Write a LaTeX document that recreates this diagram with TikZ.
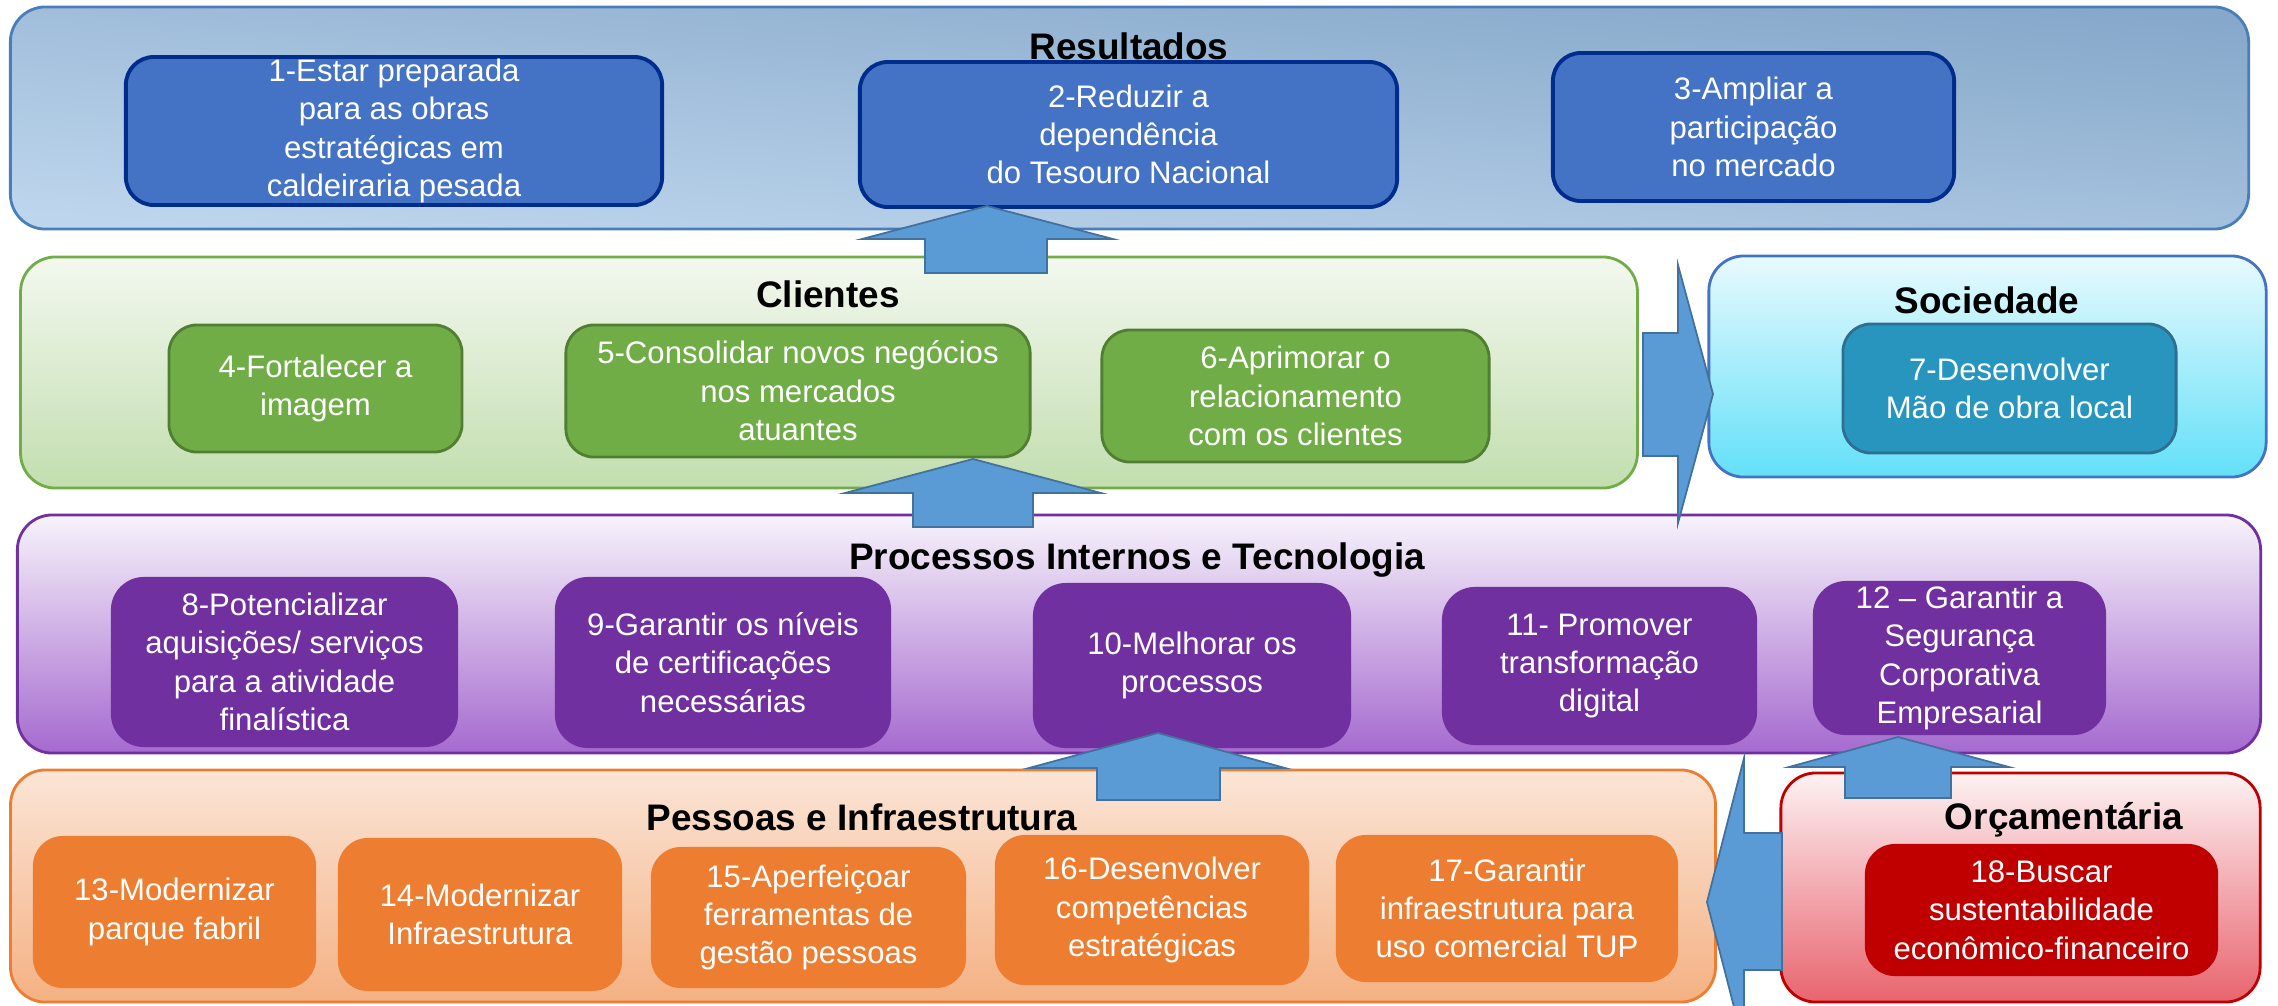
\documentclass[tikz,border=0pt]{standalone}
\usepackage{fontspec}
\setmainfont{Liberation Sans}
\definecolor{resTop}{RGB}{134,168,202}
\definecolor{resMid}{RGB}{160,190,219}
\definecolor{resBot}{RGB}{190,214,237}
\definecolor{resLine}{RGB}{74,126,187}
\definecolor{blueFill}{RGB}{68,114,196}
\definecolor{blueLine}{RGB}{0,45,140}
\definecolor{cliTop}{RGB}{243,248,239}
\definecolor{cliMid}{RGB}{222,236,212}
\definecolor{cliBot}{RGB}{194,222,175}
\definecolor{greenFill}{RGB}{112,173,71}
\definecolor{greenLine}{RGB}{80,126,50}
\definecolor{socTop}{RGB}{232,250,254}
\definecolor{socMid}{RGB}{120,228,248}
\definecolor{socBot}{RGB}{99,224,248}
\definecolor{socLine}{RGB}{68,114,196}
\definecolor{tealFill}{RGB}{39,149,190}
\definecolor{tealLine}{RGB}{46,110,145}
\definecolor{proTop}{RGB}{247,243,251}
\definecolor{proMid}{RGB}{205,175,228}
\definecolor{proBot}{RGB}{165,106,207}
\definecolor{purpFill}{RGB}{112,48,160}
\definecolor{pesTop}{RGB}{251,229,214}
\definecolor{pesBot}{RGB}{244,177,131}
\definecolor{orangeFill}{RGB}{237,125,49}
\definecolor{orcTop}{RGB}{253,242,243}
\definecolor{orcMid}{RGB}{238,140,148}
\definecolor{orcBot}{RGB}{232,100,110}
\definecolor{redFill}{RGB}{192,0,0}
\definecolor{arrFill}{RGB}{91,155,213}
\definecolor{arrLine}{RGB}{65,113,156}
\newcommand{\boxfnt}{\fontsize{8.85}{10.9}\selectfont}
\newcommand{\ttlfnt}{\bfseries\fontsize{10.5}{12}\selectfont}
\begin{document}
\begin{tikzpicture}[x=0.01cm,y=-0.01cm,
  panel/.style={rectangle,rounded corners=0.35cm,line width=0.8pt,inner sep=0pt},
  obox/.style={rectangle,rounded corners=0.28cm,align=center,text=white,font=\boxfnt,inner sep=0pt},
  bluebox/.style={obox,fill=blueFill,draw=blueLine,line width=1.1pt},
  greenbox/.style={obox,fill=greenFill,draw=greenLine,line width=0.8pt},
  tealbox/.style={obox,fill=tealFill,draw=tealLine,line width=0.8pt},
  purpbox/.style={obox,fill=purpFill,rounded corners=0.33cm},
  orangebox/.style={obox,fill=orangeFill,rounded corners=0.3cm},
  redbox/.style={obox,fill=redFill,rounded corners=0.3cm},
  ptitle/.style={font=\ttlfnt,text=black,inner sep=0pt},
  blockarrow/.style={fill=arrFill,draw=arrLine,line width=0.5pt,line join=miter}]
\useasboundingbox (0,0) rectangle (2278,1005);
\clip (0,0) rectangle (2278,1005);
% panels
\node[panel,draw=resLine,top color=resTop,middle color=resMid,bottom color=resBot,shading angle=-5,minimum width=22.37cm,minimum height=2.22cm] (res) at (1129.5,118) {};
\node[panel,draw=greenFill,top color=cliTop,middle color=cliMid,bottom color=cliBot,minimum width=16.16cm,minimum height=2.31cm] (cli) at (829,372.5) {};
\node[panel,draw=socLine,top color=socTop,middle color=socMid,bottom color=socBot,minimum width=5.57cm,minimum height=2.21cm] (soc) at (1987.5,366.5) {};
\node[panel,draw=purpFill,top color=proTop,middle color=proMid,bottom color=proBot,minimum width=22.42cm,minimum height=2.38cm] (pro) at (1139,634) {};
\node[panel,draw=orangeFill,top color=pesTop,bottom color=pesBot,minimum width=17.04cm,minimum height=2.32cm] (pes) at (863,886) {};
\node[panel,draw=redFill,top color=orcTop,middle color=orcMid,bottom color=orcBot,minimum width=4.79cm,minimum height=2.29cm] (orc) at (2020.5,887.5) {};
% boxes
\node[bluebox,minimum width=5.36cm,minimum height=1.48cm] (b1) at (394,131) {1-Estar preparada\\para as obras\\estratégicas em\\caldeiraria pesada};
\node[bluebox,minimum width=5.37cm,minimum height=1.45cm] (b2) at (1128.5,134.5) {2-Reduzir a\\dependência\\do Tesouro Nacional};
\node[bluebox,minimum width=4.01cm,minimum height=1.48cm] (b3) at (1753.5,127) {3-Ampliar a\\participação\\no mercado};
\node[greenbox,minimum width=2.93cm,minimum height=1.27cm] (b4) at (315.5,388.5) {4-Fortalecer a\\imagem};
\node[greenbox,minimum width=4.64cm,minimum height=1.32cm] (b5) at (798,391) {5-Consolidar novos negócios\\nos mercados\\atuantes};
\node[greenbox,minimum width=3.87cm,minimum height=1.32cm] (b6) at (1295.5,396) {6-Aprimorar o\\relacionamento\\com os clientes};
\node[tealbox,minimum width=3.33cm,minimum height=1.29cm] (b7) at (2009.5,388.5) {7-Desenvolver\\Mão de obra local};
\node[purpbox,minimum width=3.47cm,minimum height=1.70cm] (b8) at (284.5,662) {8-Potencializar\\aquisições/ serviços\\para a atividade\\finalística};
\node[purpbox,minimum width=3.36cm,minimum height=1.71cm] (b9) at (723,662.5) {9-Garantir os níveis\\de certificações\\necessárias};
\node[purpbox,minimum width=3.18cm,minimum height=1.65cm] (b10) at (1192,665.5) {10-Melhorar os\\processos};
\node[purpbox,minimum width=3.15cm,minimum height=1.58cm] (b11) at (1599.5,666) {11- Promover\\transformação\\digital};
\node[purpbox,minimum width=2.93cm,minimum height=1.54cm] (b12) at (1959.5,658) {12 – Garantir a\\Segurança\\Corporativa\\Empresarial};
\node[orangebox,minimum width=2.83cm,minimum height=1.52cm] (b13) at (174.5,912) {13-Modernizar\\parque fabril};
\node[orangebox,minimum width=2.84cm,minimum height=1.53cm] (b14) at (480,914.5) {14-Modernizar\\Infraestrutura};
\node[orangebox,minimum width=3.15cm,minimum height=1.41cm] (b15) at (808.5,917.5) {15-Aperfeiçoar\\ferramentas de\\gestão pessoas};
\node[orangebox,minimum width=3.14cm,minimum height=1.50cm] (b16) at (1152,910) {16-Desenvolver\\competências\\estratégicas};
\node[orangebox,minimum width=3.42cm,minimum height=1.47cm] (b17) at (1507,908.5) {17-Garantir\\infraestrutura para\\uso comercial TUP};
\node[redbox,minimum width=3.53cm,minimum height=1.32cm] (b18) at (2041.5,910) {18-Buscar\\sustentabilidade\\econômico-financeiro};
% block arrows
\draw[blockarrow] (862,239) -- (987,206) -- (1113,239) -- (1047,239) -- (1047,273) -- (925,273) -- (925,239) -- cycle;
\draw[blockarrow] (845,493) -- (973,459) -- (1101,493) -- (1033,493) -- (1033,527) -- (913,527) -- (913,493) -- cycle;
\draw[blockarrow] (1029,768) -- (1158,733) -- (1285,768) -- (1220,768) -- (1220,800) -- (1097,800) -- (1097,768) -- cycle;
\draw[blockarrow] (1789,767) -- (1898,737) -- (2009,767) -- (1951,767) -- (1951,798) -- (1845,798) -- (1845,767) -- cycle;
\draw[blockarrow] (1643,333) -- (1678,333) -- (1678,265) -- (1713,394) -- (1678,523) -- (1678,456) -- (1643,456) -- cycle;
\draw[blockarrow] (1782,833) -- (1744,833) -- (1744,758) -- (1707,902) -- (1744,1046) -- (1744,970) -- (1782,970) -- cycle;
% titles
\node[ptitle] (tres) at (1129,46) {Resultados};
\node[ptitle] (tcli) at (828,294) {Clientes};
\node[ptitle] (tsoc) at (1987,300) {Sociedade};
\node[ptitle] (tpro) at (1137,560) {Processos Internos e Tecnologia};
\node[ptitle] (tpes) at (862,817) {Pessoas e Infraestrutura};
\node[ptitle] (torc) at (2064,820) {Orçamentária};
\end{tikzpicture}
\end{document}
